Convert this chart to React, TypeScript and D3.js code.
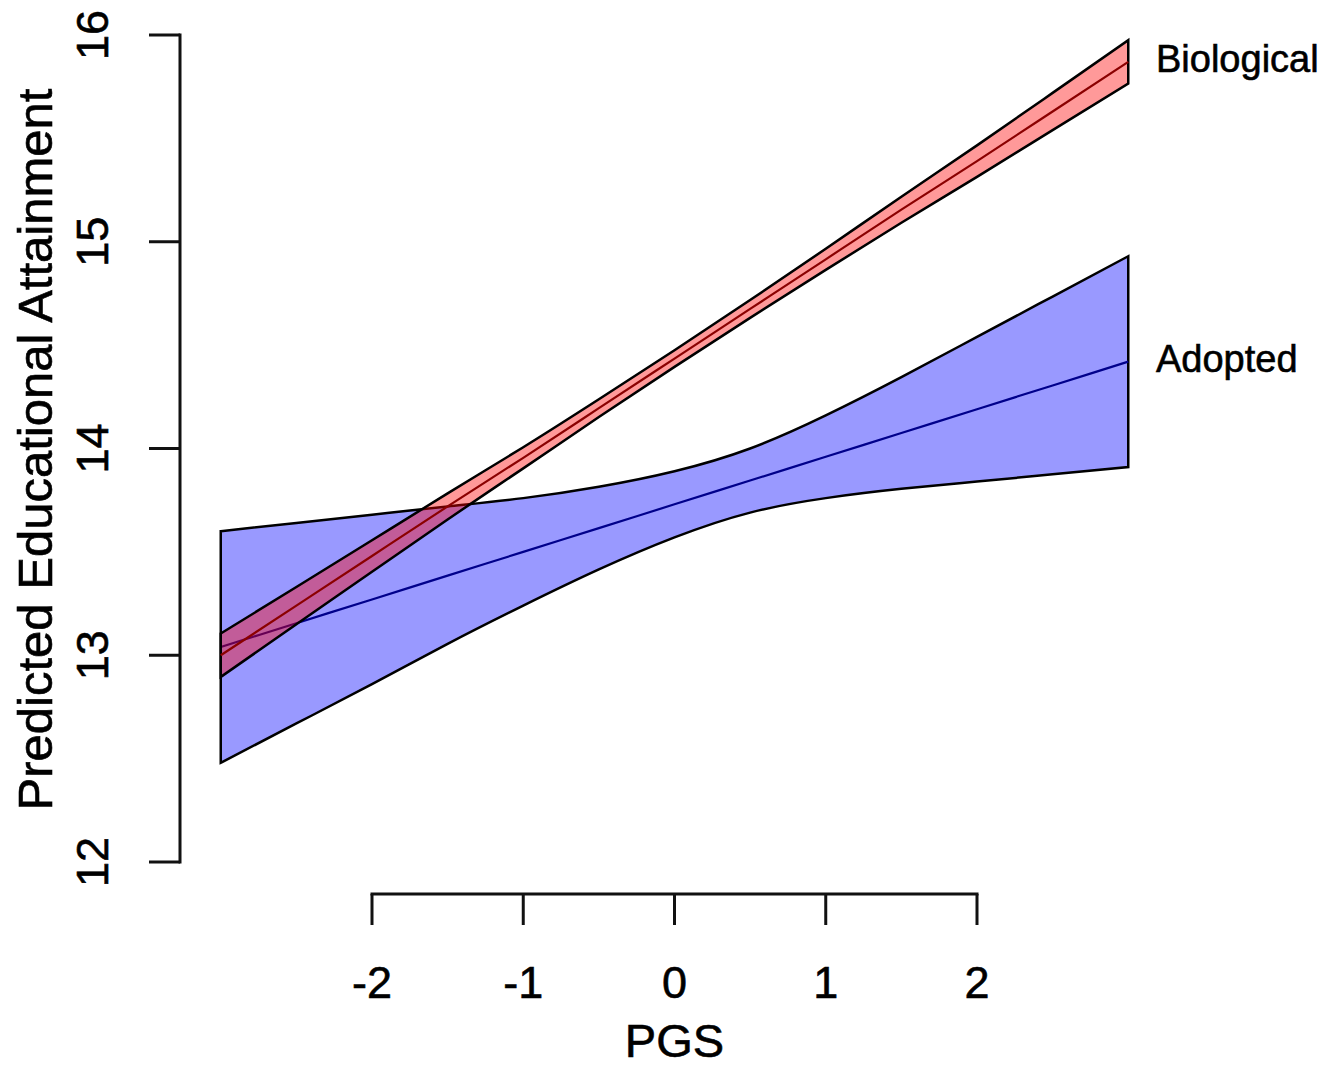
import React from "react";
import * as d3 from "d3";

// PGS grid where the fitted values were read
const pgs = [-3, -2.5, -2, -1.5, -1, -0.5, 0, 0.5, 1, 1.5, 2, 2.5, 3];

// Adopted: fitted line and confidence band
const adoptedFit = [13.04, 13.155, 13.27, 13.385, 13.5, 13.615, 13.73, 13.845, 13.96, 14.075, 14.19, 14.305, 14.42];
const adoptedUpper = [13.6, 13.64, 13.68, 13.72, 13.76, 13.815, 13.89, 14.0, 14.16, 14.345, 14.54, 14.735, 14.93];
const adoptedLower = [12.48, 12.67, 12.86, 13.055, 13.24, 13.415, 13.57, 13.69, 13.76, 13.805, 13.84, 13.875, 13.91];

// Biological: fitted line and confidence band
const bioFit = [13.0, 13.24, 13.48, 13.72, 13.955, 14.195, 14.435, 14.675, 14.915, 15.155, 15.39, 15.63, 15.87];
const bioUpper = [13.105, 13.33, 13.556, 13.783, 14.006, 14.238, 14.475, 14.718, 14.966, 15.218, 15.466, 15.72, 15.975];
const bioLower = [12.895, 13.15, 13.404, 13.657, 13.904, 14.152, 14.395, 14.632, 14.864, 15.092, 15.314, 15.54, 15.765];

const xTicks = [-2, -1, 0, 1, 2];
const yTicks = [12, 13, 14, 15, 16];

const FONT = "'Liberation Sans', Arial, Helvetica, sans-serif";

export default function App() {
  const x = d3.scaleLinear().domain([-2, 2]).range([372, 977]);
  const y = d3.scaleLinear().domain([12, 16]).range([862, 35]);

  const band = (up: number[], lo: number[]) =>
    d3
      .area<number>()
      .x((_, i) => x(pgs[i]))
      .y0((_, i) => y(lo[i]))
      .y1((_, i) => y(up[i]))
      .curve(d3.curveNatural)(pgs) as string;

  const line = (v: number[]) =>
    d3
      .line<number>()
      .x((_, i) => x(pgs[i]))
      .y((_, i) => y(v[i]))
      .curve(d3.curveNatural)(pgs) as string;

  const axisColor = "#111";
  const xAxisY = 894;
  const yAxisX = 180;
  const tickLen = 31;
  const textStyle = { stroke: "#000", strokeWidth: 0.6 } as React.CSSProperties;

  return (
    <svg
      width={1342}
      height={1067}
      style={{ position: "absolute", left: 0, top: 0, background: "#fff" }}
      fontFamily={FONT}
    >
      {/* Adopted band and line */}
      <path d={band(adoptedUpper, adoptedLower)} fill="rgba(0,0,255,0.4)" stroke="#000" strokeWidth={2.5} strokeLinejoin="miter" />
      <path d={line(adoptedFit)} fill="none" stroke="#00008B" strokeWidth={2.2} />

      {/* Biological band and line */}
      <path d={band(bioUpper, bioLower)} fill="rgba(255,0,0,0.4)" stroke="#000" strokeWidth={2.5} />
      <path d={line(bioFit)} fill="none" stroke="#8B0000" strokeWidth={2.2} />

      {/* Y axis */}
      <line x1={yAxisX} x2={yAxisX} y1={y(16)} y2={y(12)} stroke={axisColor} strokeWidth={3} strokeLinecap="square" />
      {yTicks.map((t) => (
        <g key={"yt" + t}>
          <line x1={yAxisX - tickLen} x2={yAxisX} y1={y(t)} y2={y(t)} stroke={axisColor} strokeWidth={3} />
          <text
            transform={`translate(108,${y(t)}) rotate(-90)`}
            textAnchor="middle"
            fontSize={45}
            fill="#000"
            style={textStyle}
          >
            {t}
          </text>
        </g>
      ))}

      {/* X axis */}
      <line x1={x(-2)} x2={x(2)} y1={xAxisY} y2={xAxisY} stroke={axisColor} strokeWidth={3} strokeLinecap="square" />
      {xTicks.map((t) => (
        <g key={"xt" + t}>
          <line x1={x(t)} x2={x(t)} y1={xAxisY} y2={xAxisY + tickLen} stroke={axisColor} strokeWidth={3} />
          <text x={x(t)} y={998} textAnchor="middle" fontSize={45} fill="#000" style={textStyle}>
            {t}
          </text>
        </g>
      ))}

      {/* Axis titles */}
      <text x={674.5} y={1057} textAnchor="middle" fontSize={47} fill="#000" style={textStyle}>
        PGS
      </text>
      <text
        transform={`translate(52,${(35 + 862) / 2 + 1}) rotate(-90)`}
        textAnchor="middle"
        fontSize={49}
        fill="#000"
        style={textStyle}
      >
        Predicted Educational Attainment
      </text>

      {/* Series labels */}
      <text x={1156} y={72} fontSize={38} fill="#000" style={textStyle}>
        Biological
      </text>
      <text x={1156} y={372} fontSize={38} fill="#000" style={textStyle}>
        Adopted
      </text>
    </svg>
  );
}
